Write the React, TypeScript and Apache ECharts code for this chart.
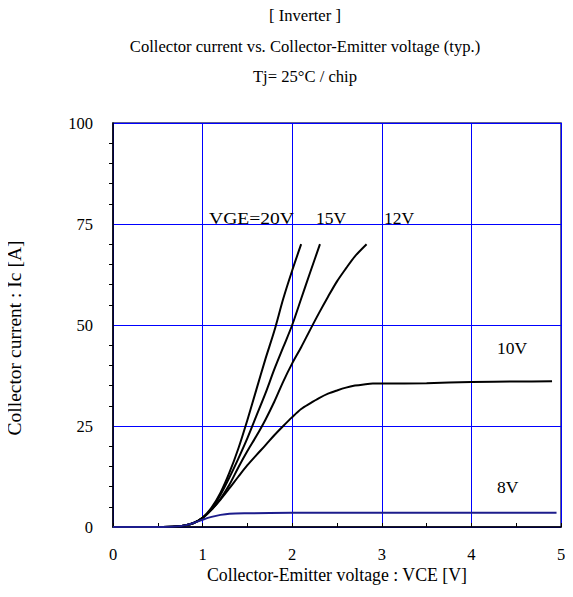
import React, { useEffect, useRef } from "react";
import * as echarts from "echarts";

const vce20 = [0, 0.3, 0.5, 0.7, 0.8, 0.9, 1.0, 1.1, 1.2, 1.3, 1.4, 1.5, 1.6, 1.7, 1.8, 1.9, 2.0, 2.1];
const ic20 = [0, 0, 0, 0.1, 0.4, 1.0, 2.3, 4.8, 8.5, 13.5, 19.5, 26.5, 34, 41.5, 48.5, 56.5, 63.5, 70];

const vce15 = [0, 0.3, 0.5, 0.7, 0.8, 0.9, 1.0, 1.1, 1.2, 1.3, 1.4, 1.5, 1.6, 1.7, 1.8, 1.9, 2.0, 2.1, 2.2, 2.31];
const ic15 = [0, 0, 0, 0.1, 0.4, 1.0, 2.3, 4.5, 8, 12.3, 17, 22, 27.5, 33, 39, 44.5, 50, 56.5, 63, 70];

const vce12 = [0, 0.3, 0.5, 0.7, 0.8, 0.9, 1.0, 1.1, 1.2, 1.3, 1.4, 1.5, 1.6, 1.7, 1.8, 1.9, 2.0, 2.1, 2.2, 2.3, 2.4, 2.5, 2.6, 2.7, 2.83];
const ic12 = [0, 0, 0, 0.1, 0.4, 1.0, 2.3, 4.3, 7, 10.5, 14.8, 18.8, 22.5, 26.5, 31, 36, 40.5, 44.5, 48.8, 53, 57, 60.8, 64, 67, 70];

const vce10 = [0, 0.3, 0.5, 0.7, 0.8, 0.9, 1.0, 1.1, 1.2, 1.3, 1.4, 1.5, 1.6, 1.7, 1.8, 1.9, 2.0, 2.1, 2.2, 2.3, 2.4, 2.5, 2.6, 2.7, 2.8, 2.9, 3.0, 3.5, 4.0, 4.5, 4.9];
const ic10 = [0, 0, 0, 0.1, 0.4, 1.0, 2.2, 4.3, 6.8, 9.6, 12.5, 15.3, 17.8, 20.2, 22.7, 25, 27.2, 29.2, 30.6, 31.9, 33, 33.8, 34.5, 35, 35.3, 35.5, 35.5, 35.6, 35.9, 36, 36.1];

const vce8 = [0, 0.3, 0.5, 0.7, 0.8, 0.9, 1.0, 1.1, 1.2, 1.3, 1.5, 2.0, 2.5, 3.0, 3.5, 4.0, 4.5, 4.95];
const ic8 = [0, 0, 0, 0.1, 0.4, 1.0, 1.8, 2.5, 3.0, 3.3, 3.4, 3.5, 3.5, 3.5, 3.5, 3.5, 3.5, 3.5];

const xTicks = [0, 1, 2, 3, 4, 5];
const yTicks = [0, 25, 50, 75, 100];

const titleLines = ["[ Inverter ]", "Collector current vs. Collector-Emitter voltage (typ.)", "Tj= 25°C / chip"];
const curveLabels = ["VGE=20V", "15V", "12V", "10V", "8V"];
const xAxisName = "Collector-Emitter voltage : VCE [V]";
const yAxisName = "Collector current : Ic [A]";

const FONT = "Times New Roman, Liberation Serif, serif";

function pairs(xs: number[], ys: number[]) {
  return xs.map((x, i) => [x, ys[i]]);
}

export default function App() {
  const ref = useRef<HTMLDivElement>(null);
  useEffect(() => {
    if (!ref.current) return;
    const chart = echarts.init(ref.current, undefined, { renderer: "svg" });
    const lineSeries = (name: string, xs: number[], ys: number[], color: string, width: number) => ({
      name,
      type: "line",
      data: pairs(xs, ys),
      showSymbol: false,
      smooth: 0.3,
      lineStyle: { color, width },
      z: 3,
    });
    const labelPos = [
      { x: 209, y: 218, sx: 1.12 },
      { x: 316, y: 218, sx: 1 },
      { x: 384, y: 218, sx: 1 },
      { x: 497, y: 348, sx: 1 },
      { x: 497, y: 487, sx: 1 },
    ];
    const titleY = [15, 46, 76];
    const txt = (text: string, align: string, size = 16) => ({
      text,
      fill: "#000",
      fontSize: size,
      fontFamily: FONT,
      textAlign: align,
      textVerticalAlign: "middle",
    });
    chart.setOption({
      animation: false,
      backgroundColor: "#ffffff",
      textStyle: { fontFamily: FONT },
      grid: {
        left: 113,
        right: 12,
        top: 123,
        bottom: 70,
        show: true,
        borderColor: "#2a2a6e",
        borderWidth: 1.5,
        backgroundColor: "transparent",
      },
      xAxis: {
        type: "value",
        min: xTicks[0],
        max: xTicks[xTicks.length - 1],
        interval: 1,
        axisLine: { show: true, lineStyle: { color: "#000000", width: 1.5 } },
        axisTick: { show: true, inside: true, length: 4, lineStyle: { color: "#000" } },
        minorTick: { show: true, splitNumber: 2, length: 4, lineStyle: { color: "#000" } },
        splitLine: { show: true, lineStyle: { color: "#0000ff", width: 1 } },
        axisLabel: { color: "#000", fontSize: 16.5, fontFamily: FONT, margin: 19 },
      },
      yAxis: {
        type: "value",
        min: yTicks[0],
        max: yTicks[yTicks.length - 1],
        interval: 25,
        axisLine: { show: true, lineStyle: { color: "#000000", width: 1.5 } },
        axisTick: { show: false },
        minorTick: { show: true, splitNumber: 5, length: 4, lineStyle: { color: "#000" } },
        splitLine: { show: true, lineStyle: { color: "#0000ff", width: 1 } },
        axisLabel: { color: "#000", fontSize: 16.5, fontFamily: FONT, margin: 20 },
      },
      series: [
        lineSeries(curveLabels[0], vce20, ic20, "#000000", 2),
        lineSeries(curveLabels[1], vce15, ic15, "#000000", 2),
        lineSeries(curveLabels[2], vce12, ic12, "#000000", 2),
        lineSeries(curveLabels[3], vce10, ic10, "#000000", 2),
        lineSeries(curveLabels[4], vce8, ic8, "#1c1c8c", 2),
      ],
      graphic: [
        ...titleLines.map((t, i) => ({
          type: "text",
          x: 305,
          y: titleY[i],
          style: txt(t, "center", 16.6),
        })),
        ...curveLabels.map((t, i) => ({
          type: "text",
          x: labelPos[i].x,
          y: labelPos[i].y,
          scaleX: labelPos[i].sx,
          z: 10,
          style: txt(t, "left", 17.5),
        })),
        {
          type: "text",
          x: 337,
          y: 575,
          style: txt(xAxisName, "center", 17.8),
        },
        {
          type: "text",
          x: 14,
          y: 338,
          rotation: Math.PI / 2,
          style: txt(yAxisName, "center", 19.5),
        },
      ],
    });
    return () => chart.dispose();
  }, []);
  return <div ref={ref} style={{ width: 573, height: 597, margin: -8 }} />;
}
